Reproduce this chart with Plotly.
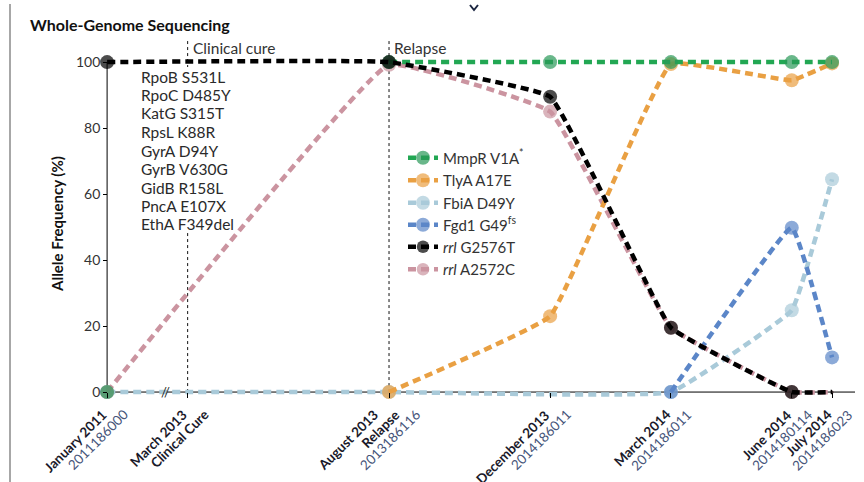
import plotly.graph_objects as go

# ---------------- data ----------------
dates = ["January 2011", "March 2013", "August 2013", "December 2013",
         "March 2014", "June 2014", "July 2014"]
sample_ids = ["2011186000", "", "2013186116", "2014186011",
              "2014186011", "2014180114", "2014186023"]
notes = ["", "Clinical Cure", "Relapse", "", "", "", ""]
# timeline position in months (axis is broken between Jan 2011 and Mar 2013)
x_pos = [0, 2, 7, 11, 14, 17, 18]

mmpr = [0, None, 100, 100, 100, 100, 100]
tlya = [None, None, 0, 23, 99.4, 94.5, 99.6]
fbia = [0, None, 0, None, 0, 24.8, 64.5]
fgd1 = [None, None, None, None, 0, 49.8, 10.5]
rrl_g = [100, None, 100, 89.5, 19.5, 0, 0]
rrl_a = [0, None, 99.2, 85, 19.5, 0, 0]

series_names = ["MmpR V1A<sup>*</sup>", "TlyA A17E", "FbiA D49Y",
                "Fgd1 G49<sup>fs</sup>", "<i>rrl</i> G2576T", "<i>rrl</i> A2572C"]
series_vals = [mmpr, tlya, fbia, fgd1, rrl_g, rrl_a]
series_colors = ["#22a753", "#e9a043", "#a9cad9", "#5b86c8", "#000000", "#cb94a0"]
marker_colors = ["#2a9858", "#e9a043", "#a9cad9", "#5b86c8", "#000000", "#cb94a0"]
series_connect = [False, True, True, True, True, True]
draw_order = [2, 3, 5, 1, 0, 4]   # which series is painted over which

events = ["Clinical cure", "Relapse"]
event_idx = [1, 2]

baseline_mutations = ["RpoB S531L", "RpoC D485Y", "KatG S315T", "RpsL K88R",
                      "GyrA D94Y", "GyrB V630G", "GidB R158L", "PncA E107X",
                      "EthA F349del"]

FONT = "Lato"
ID_COLOR = "#46557a"
DATE_COLOR = "#1a1a2a"

# ---------------- layout geometry ----------------
W, H = 864, 482
ML, MR, MT, MB = 93, 9, 39, 85
XR = [-0.35, 18.57]
YR = [-1.5, 107]
PW, PH = W - ML - MR, H - MT - MB


def px(xp):
    return (xp - ML) / PW


def py(yp):
    return (H - MB - yp) / PH


fig = go.Figure()

# event dashed lines
for name, i in zip(events, event_idx):
    fig.add_trace(go.Scatter(
        x=[x_pos[i], x_pos[i]], y=[0, 106.7], mode="lines",
        line=dict(color="#111111", width=1, dash="3px,3px"),
        showlegend=False, hoverinfo="skip"))
    fig.add_annotation(x=x_pos[i], y=104.2, xref="x", yref="y", text=name,
                       showarrow=False, xanchor="left", xshift=3,
                       font=dict(family=FONT, size=15.5, color="#333333"))

for k in draw_order:
    nm, vals = series_names[k], series_vals[k]
    col, mc, cg = series_colors[k], marker_colors[k], series_connect[k]
    sizes = [14] * len(vals)
    if k >= 4:
        sizes[-1] = 3
    fig.add_trace(go.Scatter(
        x=x_pos, y=vals, mode="lines+markers", name=nm,
        connectgaps=cg,
        line=dict(color=col, width=4.5, dash="8px,5px", shape="spline", smoothing=0.25),
        marker=dict(color=mc, size=sizes, line=dict(width=0)),
        cliponaxis=False,
        legend="legend" if k == 0 else f"legend{k + 1}",
    ))

# legends (one per row to mimic the spacing)
legend_rows_px = [158, 180.5, 203, 225, 247, 269.5]
for k, rp in enumerate(legend_rows_px):
    key = "legend" if k == 0 else f"legend{k + 1}"
    fig.update_layout(**{key: dict(
        x=px(403), y=py(rp), xanchor="left", yanchor="middle",
        bgcolor="rgba(0,0,0,0)", borderwidth=0,
        font=dict(family=FONT, size=15, color="#333333"),
        itemwidth=30)})

# rotated x tick labels (one annotation per line)
for xv, d, s, n in zip(x_pos, dates, sample_ids, notes):
    lines = [(f"<b>{d}</b>", DATE_COLOR)]
    if n:
        lines.append((f"<b>{n}</b>", DATE_COLOR))
    if s:
        lines.append((s, ID_COLOR))
    nl = len(lines)
    for j, (t, c) in enumerate(lines):
        fig.add_annotation(x=xv, y=0, xref="x", yref="y", text=t,
                           showarrow=False, textangle=-45,
                           xanchor="right", yanchor="top",
                           xshift=16 + 21 * (j - (nl - 1) / 2), yshift=-12,
                           font=dict(family=FONT, size=13.5, color=c))

fig.update_xaxes(
    range=XR, tickmode="array", tickvals=x_pos, showticklabels=False,
    ticks="outside", ticklen=5, tickcolor="#000",
    anchor="free", position=(0 - YR[0]) / (YR[1] - YR[0]),
    showline=False, showgrid=False, zeroline=False, automargin=False)
fig.update_yaxes(
    range=YR, tickvals=[0, 20, 40, 60, 80, 100], ticks="outside",
    anchor="free", position=(0 - XR[0]) / (XR[1] - XR[0]),
    ticklen=4, tickcolor="#000", showline=False, automargin=False,
    showgrid=False, zeroline=False,
    tickfont=dict(family=FONT, size=14, color="#333333"))

# axis lines
fig.add_shape(type="line", xref="x", yref="y", x0=0, x1=XR[1], y0=0, y1=0,
              line=dict(color="#000", width=1), layer="below")
fig.add_shape(type="line", xref="x", yref="y", x0=0, x1=0, y0=0, y1=100,
              line=dict(color="#000", width=1), layer="below")

# white box behind the baseline mutation list
fig.add_shape(type="rect", xref="paper", yref="paper",
              x0=px(137), x1=px(233), y0=py(233), y1=py(67),
              fillcolor="white", line=dict(width=0), layer="above")

# baseline mutation list
for j, m in enumerate(baseline_mutations):
    fig.add_annotation(xref="paper", yref="paper", x=px(139),
                       y=py(76.5 + 18.5 * j), text=m, showarrow=False,
                       xanchor="left", yanchor="middle",
                       font=dict(family=FONT, size=15.5, color="#2a2a2a"))

# axis break marker
fig.add_annotation(x=1.45, y=0, xref="x", yref="y", text="//", showarrow=False,
                   font=dict(family=FONT, size=13, color="#222"))

# title & y title
fig.add_annotation(xref="paper", yref="paper", x=px(28),
                   y=py(24), text="<b>Whole-Genome Sequencing</b>",
                   showarrow=False, xanchor="left", yanchor="middle",
                   font=dict(family=FONT, size=16, color="#111"))
fig.add_annotation(xref="paper", yref="paper", x=px(57),
                   y=py(224), text="<b>Allele Frequency (%)</b>",
                   showarrow=False, textangle=-90, xanchor="center", yanchor="middle",
                   font=dict(family=FONT, size=15, color="#111"))

# decorative frame line and chevron
fig.add_shape(type="line", xref="paper", yref="paper",
              x0=px(10), x1=px(10), y0=py(482), y1=py(4),
              line=dict(color="#8a8a8a", width=1.5))
fig.add_shape(type="path", xref="paper", yref="paper",
              path=f"M {px(470)} {py(5)} L {px(474)} {py(10)} L {px(478)} {py(5)}",
              line=dict(color="#1a2540", width=2))

fig.update_layout(
    width=W, height=H,
    margin=dict(l=ML, r=MR, t=MT, b=MB, autoexpand=False),
    paper_bgcolor="white", plot_bgcolor="white",
    font=dict(family=FONT),
)

fig.write_html("out.html")
